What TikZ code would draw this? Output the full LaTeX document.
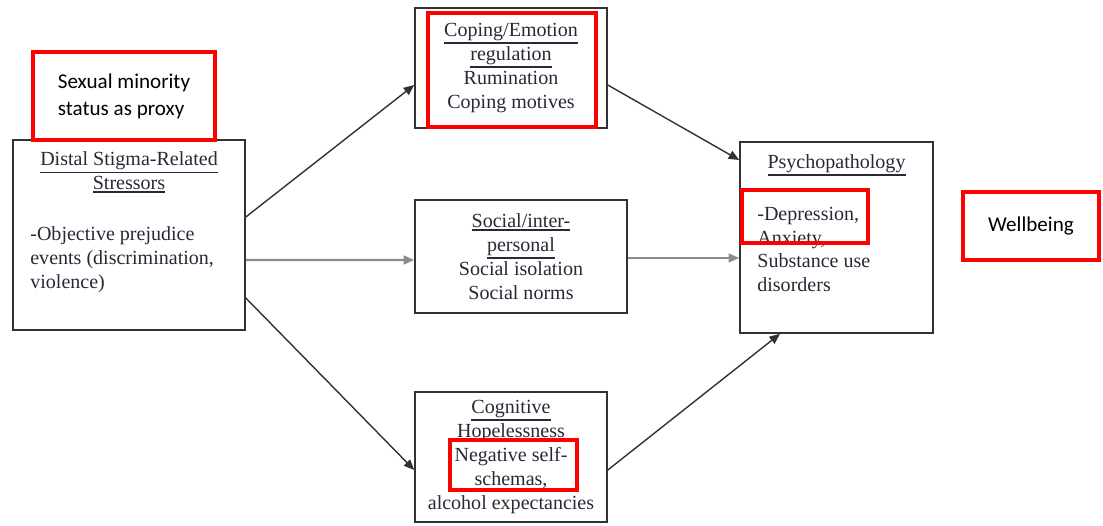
\documentclass[tikz,border=0pt]{standalone}
\usepackage{fontspec}
\setmainfont{Liberation Serif}
\newfontfamily\calib{Carlito}
\usetikzlibrary{arrows.meta}
\definecolor{txtcol}{RGB}{40,40,55}
\definecolor{linecol}{RGB}{50,50,50}
\newcommand{\headul}[1]{\vtop{\hbox{#1}\kern0.8pt\hrule height 1pt}}
\tikzset{
  box/.style={draw=linecol, line width=0.9pt, align=center, text=txtcol, font=\fontsize{11.4}{13.6}\selectfont},
  plain/.style={inner sep=0pt, text=txtcol, font=\fontsize{11.4}{13.6}\selectfont},
  mark box/.style={draw=red, line width=2.4pt, align=left, font=\calib\fontsize{12}{15.4}\selectfont},
  arr/.style={-{Triangle[length=6pt,width=5pt]}, draw=linecol, line width=0.8pt},
  grayarr/.style={arr, draw=black!45, line width=1.2pt}
}
\begin{document}
\begin{tikzpicture}
\useasboundingbox (0,0) rectangle (22.06,10.5);

\node[box, minimum width=4.64cm, minimum height=3.8cm] (distal) at (2.58,5.8) {};
\node[plain, align=center] (distaltitle) at (2.58,7.05) {\headul{Distal Stigma-Related}\\ \headul{Stressors}};
\node[plain, align=left, anchor=west] (distalbody) at (0.6,5.3) {-Objective prejudice\\ events (discrimination,\\ violence)};

\node[box, minimum width=3.84cm, minimum height=2.4cm] (coping) at (10.22,9.14) {\headul{Coping/Emotion}\\ \headul{regulation}\\ Rumination\\ Coping motives};
\node[box, minimum width=4.24cm, minimum height=2.26cm] (social) at (10.42,5.37) {\headul{Social/inter-}\\ \headul{personal}\\ Social isolation\\ Social norms};
\node[box, minimum width=3.84cm, minimum height=2.6cm] (cognitive) at (10.22,1.36) {\headul{Cognitive}\\ Hopelessness\\ Negative self-\\ schemas,\\ alcohol expectancies};

\node[box, minimum width=3.86cm, minimum height=3.82cm] (psych) at (16.73,5.75) {};
\node[plain] (psychtitle) at (16.73,7.2) {\headul{Psychopathology}};
\node[plain, align=left, anchor=west] (psychbody) at (15.14,5.51) {-Depression,\\ Anxiety,\\ Substance use\\ disorders};

\draw[arr] ([yshift=0.36cm]distal.east) -- ([yshift=-0.34cm]coping.west);
\draw[grayarr] ([yshift=-0.5cm]distal.east) -- ([yshift=-0.07cm]social.west);
\draw[arr] ([yshift=-1.26cm]distal.east) -- ([yshift=-0.26cm]cognitive.west);
\draw[arr] ([yshift=-0.34cm]coping.east) -- ([yshift=1.55cm]psych.west);
\draw[grayarr] ([yshift=-0.03cm]social.east) -- ([yshift=-0.41cm]psych.west);
\draw[arr] ([yshift=-0.26cm]cognitive.east) -- ([xshift=-1.13cm]psych.south);

\node[mark box, minimum width=3.64cm, minimum height=1.76cm] (proxy) at (2.48,8.58) {Sexual minority\\ status as proxy};
\node[mark box, minimum width=3.36cm, minimum height=2.28cm] (copingmark) at (10.24,9.1) {};
\node[mark box, minimum width=2.54cm, minimum height=1.0cm] (cogmark) at (10.27,1.2) {};
\node[mark box, minimum width=2.52cm, minimum height=1.06cm] (psychmark) at (16.1,6.17) {};
\node[mark box, minimum width=2.72cm, minimum height=1.36cm] (wellbeing) at (20.62,5.98) {Wellbeing};
\end{tikzpicture}
\end{document}
